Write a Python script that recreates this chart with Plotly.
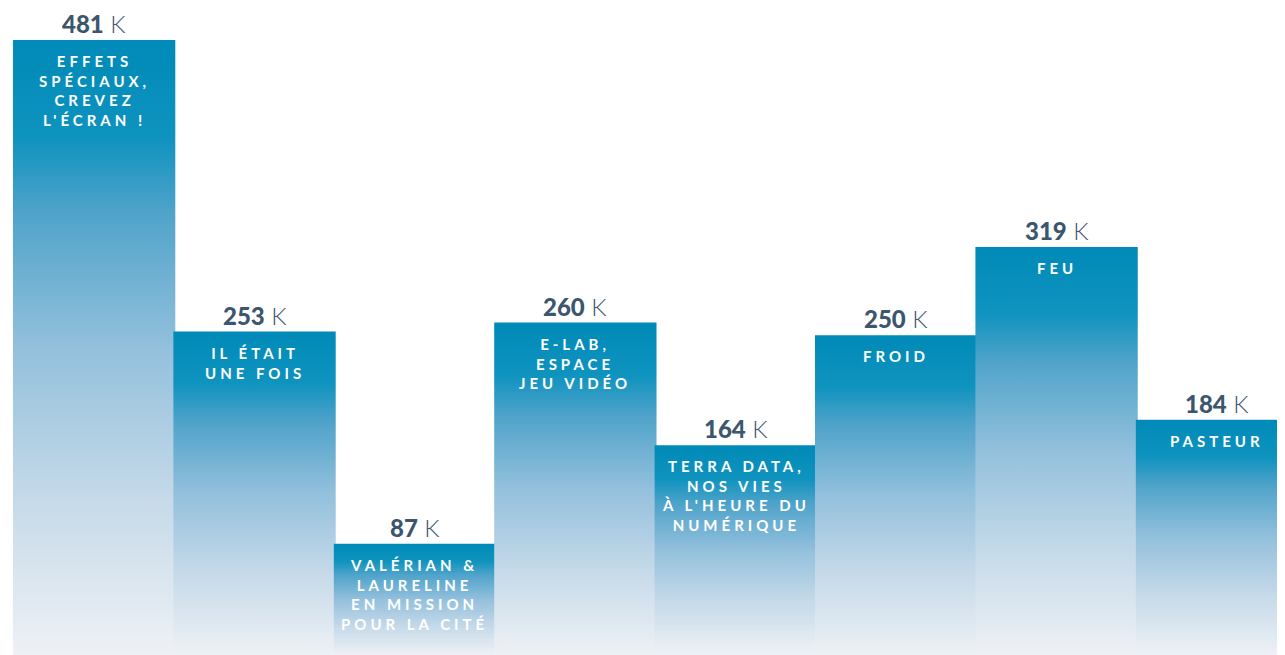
import plotly.graph_objects as go

categories = [
    "EFFETS<br>SPÉCIAUX,<br>CREVEZ<br>L'ÉCRAN !",
    "IL ÉTAIT<br>UNE FOIS",
    "VALÉRIAN &amp;<br>LAURELINE<br>EN MISSION<br>POUR LA CITÉ",
    "E-LAB,<br>ESPACE<br>JEU VIDÉO",
    "TERRA DATA,<br>NOS VIES<br>À L'HEURE DU<br>NUMÉRIQUE",
    "FROID",
    "FEU",
    "PASTEUR",
]
visitors_k = [481, 253, 87, 260, 164, 250, 319, 184]

gradient = [
    [0.0, "#eef1f5"],
    [0.25, "#c6dae9"],
    [0.5, "#93c0dc"],
    [0.72, "#4fa3ca"],
    [0.84, "#0f93bf"],
    [1.0, "#008ab7"],
]

fig = go.Figure()
half = 0.506
for i, v in enumerate(visitors_k):
    fig.add_trace(go.Scatter(
        x=[i - half, i + half, i + half, i - half, i - half],
        y=[0, 0, v, v, 0],
        mode="lines",
        line=dict(width=0, color="rgba(0,0,0,0)"),
        fill="toself",
        fillgradient=dict(type="vertical", colorscale=gradient),
        hoverinfo="skip",
        showlegend=False,
    ))
    fig.add_annotation(
        x=i, y=v, xref="x", yref="y",
        text=f"<span style='font-weight:900'>{v}</span><span style='font-weight:300'> K</span>",
        showarrow=False, yanchor="bottom", xanchor="center", yshift=1,
        borderpad=0,
        font=dict(family="Lato", size=24, color="#3b566d"),
    )
    fig.add_annotation(
        x=i, y=v, xref="x", yref="y",
        text=f"<span style='letter-spacing:4px'><b>{categories[i]}</b></span>",
        showarrow=False, yanchor="top", xanchor="center", yshift=-10,
        align="center",
        font=dict(family="Lato", size=15, color="white"),
    )

fig.update_layout(
    width=1277, height=647,
    margin=dict(l=0, r=0, t=0, b=0),
    paper_bgcolor="white", plot_bgcolor="white",
    xaxis=dict(range=[-0.537, 7.424], visible=False, fixedrange=True),
    yaxis=dict(range=[0, 506], visible=False, fixedrange=True),
)

fig.write_html("out.html")
